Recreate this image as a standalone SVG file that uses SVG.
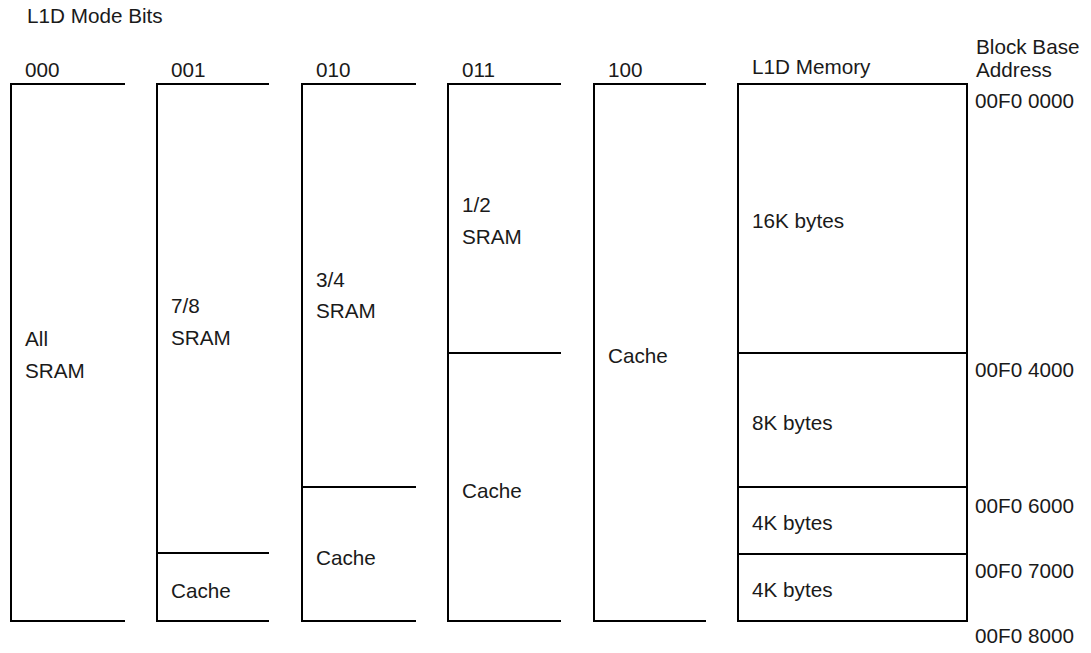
<svg xmlns="http://www.w3.org/2000/svg" width="1091" height="653" viewBox="0 0 1091 653">
<style>
  .ln { fill: none; stroke: #000; stroke-width: 2; }
  text { font-family: "Liberation Sans", Arial, sans-serif; font-size: 20.7px; fill: #1a1a1a; }
</style>
<rect width="1091" height="653" fill="#fff"/>
<text x="27" y="23">L1D Mode Bits</text>

<g id="col-000">
  <text x="25" y="77">000</text>
  <path class="ln" d="M125 84 H11 V621 H125"/>
  <text x="25" y="346">All</text>
  <text x="25" y="378">SRAM</text>
</g>

<g id="col-001">
  <text x="171" y="77">001</text>
  <path class="ln" d="M269 84 H157 V621 H269"/>
  <path class="ln" d="M157 553 H269"/>
  <text x="171" y="313">7/8</text>
  <text x="171" y="345">SRAM</text>
  <text x="171" y="598">Cache</text>
</g>

<g id="col-010">
  <text x="316" y="77">010</text>
  <path class="ln" d="M416 84 H302 V621 H416"/>
  <path class="ln" d="M302 487 H416"/>
  <text x="316" y="287">3/4</text>
  <text x="316" y="318">SRAM</text>
  <text x="316" y="565">Cache</text>
</g>

<g id="col-011">
  <text x="462" y="77">011</text>
  <path class="ln" d="M561 84 H448 V621 H561"/>
  <path class="ln" d="M448 353 H561"/>
  <text x="462" y="212">1/2</text>
  <text x="462" y="244">SRAM</text>
  <text x="462" y="498">Cache</text>
</g>

<g id="col-100">
  <text x="608" y="77">100</text>
  <path class="ln" d="M706 84 H594 V621 H706"/>
  <text x="608" y="363">Cache</text>
</g>

<g id="l1d-memory">
  <text x="752" y="74">L1D Memory</text>
  <rect class="ln" x="738" y="84" width="229" height="537"/>
  <path class="ln" d="M738 353 H967 M738 487 H967 M738 554 H967"/>
  <text x="752" y="228">16K bytes</text>
  <text x="752" y="430">8K bytes</text>
  <text x="752" y="530">4K bytes</text>
  <text x="752" y="597">4K bytes</text>
</g>

<g id="addresses">
  <text x="976" y="54">Block Base</text>
  <text x="976" y="77">Address</text>
  <text x="975" y="108">00F0 0000</text>
  <text x="975" y="377">00F0 4000</text>
  <text x="975" y="513">00F0 6000</text>
  <text x="975" y="578">00F0 7000</text>
  <text x="975" y="643">00F0 8000</text>
</g>
</svg>
